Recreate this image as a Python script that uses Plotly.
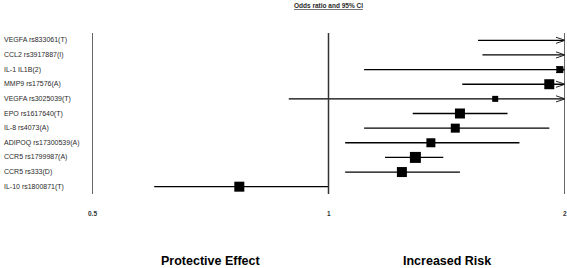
import math
import plotly.graph_objects as go

# ---- data ----
labels = ["VEGFA rs833061(T)", "CCL2 rs3917887(I)", "IL-1 IL1B(2)", "MMP9 rs17576(A)",
          "VEGFA rs3025039(T)", "EPO rs1617640(T)", "IL-8 rs4073(A)", "ADIPOQ rs17300539(A)",
          "CCR5 rs1799987(A)", "CCR5 rs333(D)", "IL-10 rs1800871(T)"]
odds_ratio = [2.45, 2.60, 1.97, 1.91, 1.63, 1.47, 1.45, 1.35, 1.29, 1.24, 0.77]
ci_lower = [1.55, 1.57, 1.11, 1.48, 0.89, 1.28, 1.11, 1.05, 1.18, 1.05, 0.60]
ci_upper = [3.90, 4.30, 3.50, 2.45, 2.95, 1.69, 1.91, 1.75, 1.40, 1.47, 1.00]
weights = [9, 9, 7, 10, 6, 10, 9, 9, 11, 10, 10]   # box sizes
tick_vals = [0.5, 1, 2]
tick_text = ["0.5", "1", "2"]
title_text = "Odds ratio and 95% CI"
side_labels = ["Protective Effect", "Increased Risk"]

W, H = 567, 268
ML, MR, MT, MB = 92, 2, 33, 74
x_lo, x_hi = min(tick_vals), max(tick_vals)
px_per_log = (W - ML - MR) / (math.log10(x_hi) - math.log10(x_lo))

rows = list(range(len(labels)))

# CI lines (clipped to axis range)
lx, ly = [], []
for i in rows:
    lo = max(ci_lower[i], x_lo)
    hi = min(ci_upper[i], x_hi)
    lx += [lo, hi, None]
    ly += [i, i, None]

# arrows for CIs that run past the range
arrow_len, arrow_half = 9, 0.21
ax, ay = [], []
for i in rows:
    if ci_upper[i] > x_hi:
        back = x_hi * 10 ** (-arrow_len / px_per_log)
        ax += [back, x_hi, back, None]
        ay += [i - arrow_half, i, i + arrow_half, None]

# point estimates inside the range
bx, by, bs = [], [], []
for i in rows:
    if x_lo <= odds_ratio[i] <= x_hi:
        bx.append(odds_ratio[i]); by.append(i); bs.append(weights[i])

fig = go.Figure()
fig.add_trace(go.Scatter(x=lx, y=ly, mode="lines", line=dict(color="black", width=1.3),
                         cliponaxis=False, hoverinfo="skip"))
fig.add_trace(go.Scatter(x=ax, y=ay, mode="lines", line=dict(color="#222", width=1),
                         cliponaxis=False, hoverinfo="skip"))
fig.add_trace(go.Scatter(x=bx, y=by, mode="markers", cliponaxis=False,
                         marker=dict(symbol="square", size=bs, color="black", opacity=1,
                                     line=dict(width=0))))

shapes = []
for v in tick_vals:
    shapes.append(dict(type="line", xref="x", yref="paper", x0=v, x1=v, y0=0, y1=1,
                       line=dict(color="#333", width=1.5)))

ann = []
for i, lab in enumerate(labels):
    ann.append(dict(text=lab, xref="paper", yref="y", x=0, y=i, xanchor="left", xshift=-ML + 2,
                    showarrow=False, font=dict(size=7, color="#2a2a2a", family="Liberation Sans, Arial")))
for v, t in zip(tick_vals, tick_text):
    ann.append(dict(text="<b>" + t + "</b>", xref="x", yref="paper", x=math.log10(v), y=0,
                    yshift=-19, xanchor="center", yanchor="middle", showarrow=False,
                    font=dict(size=6.5, color="#333", family="Liberation Sans, Arial")))
ann.append(dict(text="<b><u>" + title_text + "</u></b>", xref="x", yref="paper",
                x=math.log10(1), y=1, yshift=MT - 5, yanchor="middle", showarrow=False,
                font=dict(size=6.5, color="#2a2a2a", family="Liberation Sans, Arial")))
mids = [math.sqrt(tick_vals[0] * tick_vals[1]), math.sqrt(tick_vals[1] * tick_vals[2])]
for m, t in zip(mids, side_labels):
    ann.append(dict(text="<b>" + t + "</b>", xref="x", yref="paper", x=math.log10(m), y=0,
                    yshift=-67, yanchor="middle", showarrow=False,
                    font=dict(size=12.5, color="black", family="Liberation Sans, Arial")))

fig.update_layout(
    width=W, height=H, margin=dict(l=ML, r=MR, t=MT, b=MB),
    paper_bgcolor="white", plot_bgcolor="white", showlegend=False,
    xaxis=dict(type="log", range=[math.log10(x_lo), math.log10(x_hi)], showgrid=False,
               zeroline=False, showticklabels=False, showline=False, ticks=""),
    yaxis=dict(range=[len(labels) - 0.5, -0.5], showgrid=False, zeroline=False,
               showticklabels=False, showline=False, ticks=""),
    shapes=shapes, annotations=ann,
)
fig.write_html("out.html", config={"displayModeBar": False},
               post_script="document.body.style.margin='0';document.body.style.overflow='hidden';")
